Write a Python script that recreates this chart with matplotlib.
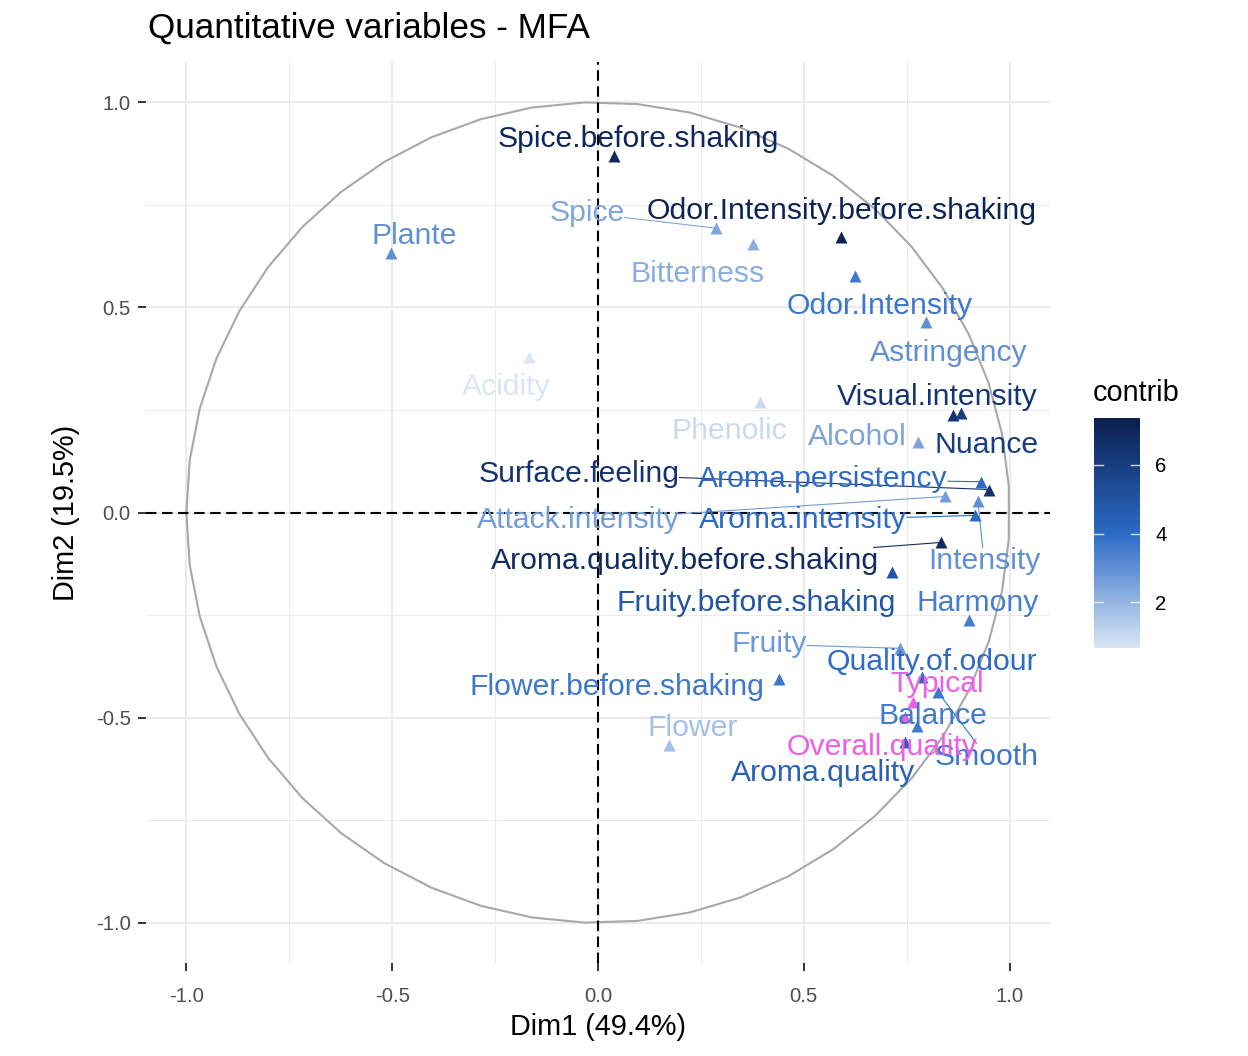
import numpy as np
import matplotlib
matplotlib.use("Agg")
import matplotlib.pyplot as plt
from matplotlib.colors import LinearSegmentedColormap, Normalize
from matplotlib.transforms import offset_copy

plt.rcParams['font.family'] = ['Liberation Sans', 'DejaVu Sans']

# ---------------- data ----------------
variables = [
    "Spice.before.shaking", "Spice", "Odor.Intensity.before.shaking", "Bitterness",
    "Plante", "Odor.Intensity", "Astringency", "Acidity", "Visual.intensity",
    "Phenolic", "Alcohol", "Nuance", "Surface.feeling", "Aroma.persistency",
    "Attack.intensity", "Aroma.intensity", "Intensity", "Aroma.quality.before.shaking",
    "Fruity.before.shaking", "Harmony", "Fruity", "Quality.of.odour",
    "Flower.before.shaking", "Balance", "Flower", "Smooth", "Aroma.quality",
]
dim1 = [0.039, 0.287, 0.590, 0.377, -0.503, 0.625, 0.797, -0.168, 0.863,
        0.394, 0.778, 0.882, 0.950, 0.931, 0.843, 0.916, 0.923, 0.834,
        0.714, 0.902, 0.734, 0.787, 0.440, 0.775, 0.173, 0.826, 0.746]
dim2 = [0.869, 0.693, 0.672, 0.654, 0.633, 0.577, 0.465, 0.380, 0.238,
        0.270, 0.173, 0.243, 0.056, 0.075, 0.039, -0.007, 0.027, -0.073,
        -0.146, -0.263, -0.331, -0.401, -0.406, -0.521, -0.567, -0.438, -0.560]
contrib = [7.0, 2.4, 7.2, 2.2, 3.0, 3.7, 3.0, 0.7, 6.4,
           1.0, 2.5, 6.0, 6.5, 4.0, 2.7, 4.0, 3.0, 6.8,
           5.0, 3.5, 2.8, 4.0, 3.7, 3.6, 1.7, 3.7, 4.5]

sup_variables = ["Typical", "Overall.quality"]
sup_dim1 = [0.766, 0.746]
sup_dim2 = [-0.462, -0.499]

# repelled label positions (data units)
label_x = [0.097, -0.027, 0.593, 0.243, -0.447, 0.685, 0.853, -0.224, 0.824,
           0.318, 0.629, 0.945, -0.046, 0.547, -0.049, 0.498, 0.938, 0.211,
           0.384, 0.923, 0.416, 0.812, 0.046, 0.814, 0.231, 0.945, 0.547]
label_y = [0.917, 0.737, 0.742, 0.589, 0.681, 0.511, 0.397, 0.314, 0.290,
           0.207, 0.192, 0.173, 0.102, 0.088, -0.012, -0.012, -0.112, -0.112,
           -0.214, -0.214, -0.314, -0.358, -0.418, -0.489, -0.518, -0.589, -0.628]
sup_label_x = [0.824, 0.690]
sup_label_y = [-0.411, -0.564]

ticks = [-1.0, -0.5, 0.0, 0.5, 1.0]
tick_labels = ["-1.0", "-0.5", "0.0", "0.5", "1.0"]
cbar_ticks = [2, 4, 6]
contrib_range = (0.66, 7.37)

# ---------------- figure ----------------
W, H = 1248, 1056
fig = plt.figure(figsize=(W / 100, H / 100), dpi=100)
ax = fig.add_axes([146 / W, 1 - 963 / H, 904 / W, 901 / H])
lim = 1.098
ax.set_xlim(-lim, lim)
ax.set_ylim(-lim, lim)

for s in ax.spines.values():
    s.set_visible(False)

# grid
minor = [-0.75, -0.25, 0.25, 0.75]
for v in minor:
    ax.axvline(v, color="#EBEBEB", lw=0.75, zorder=0)
    ax.axhline(v, color="#EBEBEB", lw=0.75, zorder=0)
for v in ticks:
    ax.axvline(v, color="#EBEBEB", lw=1.5, zorder=0)
    ax.axhline(v, color="#EBEBEB", lw=1.5, zorder=0)

# correlation circle
theta = np.linspace(-np.pi, np.pi, 50)
ax.plot(np.cos(theta), np.sin(theta), color="#A8A8A8", lw=1.5, zorder=1)

# dashed axes
ax.axhline(0, color="black", lw=1.5, ls=(0, (5.0, 2.7)), zorder=2)
ax.axvline(0, color="black", lw=1.5, ls=(0, (5.0, 2.7)), zorder=2)

cmap = LinearSegmentedColormap.from_list(
    "contrib", ["#D8E6F6", "#2C6BC6", "#0B1F50"])
norm = Normalize(vmin=contrib_range[0], vmax=contrib_range[1])

label_fs = 21.7
sup_color = "#EE5EE6"
text_tr = offset_copy(ax.transData, fig=fig, x=0, y=-3, units="dots")

texts = []
for name, x, y, c, lx, ly in zip(variables, dim1, dim2, contrib, label_x, label_y):
    col = cmap(norm(c))
    ax.plot([x], [y], marker="^", ms=8.8, color=col, mec="none", zorder=4)
    t = ax.text(lx, ly, name, color=col, fontsize=label_fs, ha="center",
                va="center", zorder=5, transform=text_tr)
    texts.append((t, x, y, col))
for name, x, y, lx, ly in zip(sup_variables, sup_dim1, sup_dim2, sup_label_x, sup_label_y):
    ax.plot([x], [y], marker="^", ms=8.8, color=sup_color, mec="none", zorder=4)
    t = ax.text(lx, ly, name, color=sup_color, fontsize=label_fs, ha="center",
                va="center", zorder=5, transform=text_tr)
    texts.append((t, x, y, sup_color))

# segments (ggrepel style) from label box edge to point
fig.canvas.draw()
renderer = fig.canvas.get_renderer()
inv = ax.transData.inverted()
for t, x, y, col in texts:
    bb = t.get_window_extent(renderer)
    px, py = ax.transData.transform((x, y))
    cx, cy = (bb.x0 + bb.x1) / 2, (bb.y0 + bb.y1) / 2
    dx = max(bb.x0 - px, 0, px - bb.x1)
    dy = max(bb.y0 - py, 0, py - bb.y1)
    if np.hypot(dx, dy) < 22:
        continue
    vx, vy = px - cx, py - cy
    sx = (bb.width / 2) / abs(vx) if vx != 0 else np.inf
    sy = (bb.height / 2) / abs(vy) if vy != 0 else np.inf
    s = min(sx, sy)
    ex, ey = cx + vx * s, cy + vy * s
    e = inv.transform((ex, ey))
    ax.plot([e[0], x], [e[1], y], color=col, lw=0.8, zorder=3)

# ticks
ax.set_xticks(ticks)
ax.set_xticklabels(tick_labels)
ax.set_yticks(ticks)
ax.set_yticklabels(tick_labels)
ax.tick_params(axis="both", length=6, width=1.1, color="black",
               labelsize=14.6, labelcolor="#4D4D4D")
ax.tick_params(axis="x", pad=11)
ax.tick_params(axis="y", pad=5)

ax.set_xlabel("Dim1 (49.4%)", fontsize=20.8, labelpad=5)
ax.set_ylabel("Dim2 (19.5%)", fontsize=20.8, labelpad=11)

fig.text(148 / W, 1 - 28 / H, "Quantitative variables - MFA", fontsize=25.3,
         ha="left", va="center")

# colorbar legend
cax = fig.add_axes([1094 / W, 1 - 648 / H, 46 / W, 230 / H])
grad = np.linspace(contrib_range[0], contrib_range[1], 300).reshape(-1, 1)
cax.imshow(grad, aspect="auto", cmap=cmap, norm=norm, origin="lower",
           extent=[0, 1, contrib_range[0], contrib_range[1]])
cax.set_xlim(0, 1)
cax.set_ylim(*contrib_range)
for s in cax.spines.values():
    s.set_visible(False)
cax.set_xticks([])
cax.yaxis.tick_right()
cax.set_yticks(cbar_ticks)
cax.set_yticklabels([str(v) for v in cbar_ticks])
cax.tick_params(axis="y", length=0, labelsize=14.6, labelcolor="black", pad=11)
for v in cbar_ticks:
    cax.plot([0, 0.2], [v, v], color="white", lw=1.0, alpha=0.8)
    cax.plot([0.8, 1.0], [v, v], color="white", lw=1.0, alpha=0.8)
fig.text(1093 / W, 1 - 393 / H, "contrib", fontsize=20.8, ha="left", va="center")

fig.savefig("out.png", dpi=100)
